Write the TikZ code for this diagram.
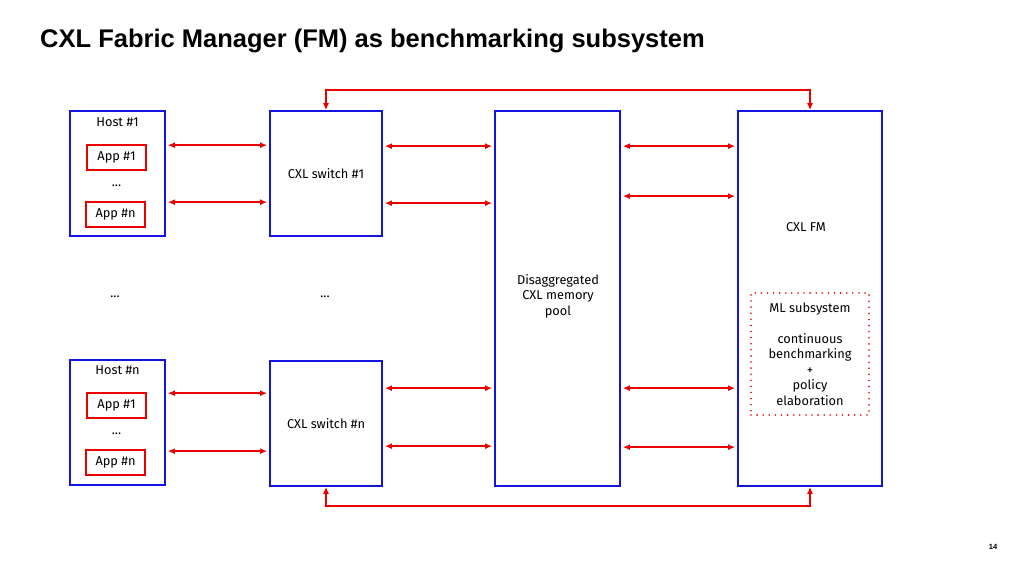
\documentclass[tikz,border=0pt]{standalone}
\usepackage{fontspec}
\setmainfont{Fira Sans}
\newfontfamily\headfont{Liberation Sans}
\usepackage{xcolor}
\usetikzlibrary{arrows.meta,positioning}
\definecolor{boxblue}{RGB}{20,20,225}
\definecolor{linkred}{RGB}{235,0,0}

\begin{document}
\begin{tikzpicture}[x=1pt,y=-1pt,>={Latex[length=7pt,width=6pt]},
        every node/.style={font=\fontsize{12.8}{15.5}\selectfont},
        blk/.style={draw=boxblue,line width=1.7pt,inner sep=0pt},
        host/.style={blk,minimum width=95pt,minimum height=125pt},
        switch/.style={blk,minimum width=112pt,minimum height=125pt},
        app/.style={draw=linkred,line width=1.7pt,inner sep=0pt,minimum width=59pt,minimum height=25pt},
        link/.style={<->,draw=linkred,line width=1.7pt,shorten >=2pt,shorten <=2pt}]
    \useasboundingbox (0,0) rectangle (1024,576);
    \node[anchor=west,inner sep=0pt,font=\headfont\bfseries\fontsize{25.5}{28}\selectfont] (title) at (40,41) {CXL Fabric Manager (FM) as benchmarking subsystem};

    \node[host] (host1) at (117.5,173.5) {};
    \node (host1lbl) at (117.5,122) {Host \#1};
    \node[app] (app11) at (116.5,157.5) {App \#1};
    \node (dots1) at (116.5,186) {...};
    \node[app] (app1n) at (115.5,214.5) {App \#n};

    \node[host] (hostn) at (117.5,422.5) {};
    \node (hostnlbl) at (117.5,370) {Host \#n};
    \node[app] (appn1) at (116.5,405.5) {App \#1};
    \node (dotsn) at (116.5,434) {...};
    \node[app] (appnn) at (115.5,462.5) {App \#n};

    \node[switch] (sw1) at (326,173.5) {CXL switch \#1};
    \node[switch] (swn) at (326,423.5) {CXL switch \#n};
    \node (hostdots) at (115,297) {...};
    \node (swdots) at (325,297) {...};

    \node[blk,minimum width=125pt,minimum height=375pt] (pool) at (557.5,298.5) {};
    \node[align=center] (poollbl) at (558,296) {Disaggregated\\CXL memory\\pool};

    \node[blk,minimum width=144pt,minimum height=375pt] (fm) at (810,298.5) {};
    \node (fmlbl) at (806,227) {CXL FM};
    \node[draw=linkred,line width=1.8pt,line cap=round,dash pattern=on 0pt off 6.1pt,minimum width=118pt,minimum height=122pt,align=center] (ml) at (810,354)
        {ML subsystem\\[15.5pt]continuous\\benchmarking\\+\\policy\\elaboration};

    \foreach \dy in {35,92}
        \draw[link] ([yshift=-\dy pt]host1.north east) -- ([yshift=-\dy pt]sw1.north west);
    \foreach \dy in {36,93}
        \draw[link] ([yshift=-\dy pt]sw1.north east) -- ([yshift=-\dy pt]pool.north west);
    \foreach \dy in {34,92}
        \draw[link] ([yshift=-\dy pt]hostn.north east) -- ([yshift=-\dy pt]hostn.north east -| swn.west);
    \foreach \dy in {28,86}
        \draw[link] ([yshift=-\dy pt]swn.north east) -- ([yshift=-\dy pt]swn.north east -| pool.west);
    \foreach \dy in {36,86,278,337}
        \draw[link] ([yshift=-\dy pt]pool.north east) -- ([yshift=-\dy pt]fm.north west);

    \draw[link,shorten >=0pt,shorten <=0pt] (sw1.north) -- ++(0,-20) -| (fm.north);
    \draw[link,shorten >=0pt,shorten <=0pt] (swn.south) -- ++(0,19) -| (fm.south);

    \node[font=\headfont\bfseries\fontsize{7.5}{8}\selectfont] (pagenum) at (993,547) {14};
\end{tikzpicture}
\end{document}
